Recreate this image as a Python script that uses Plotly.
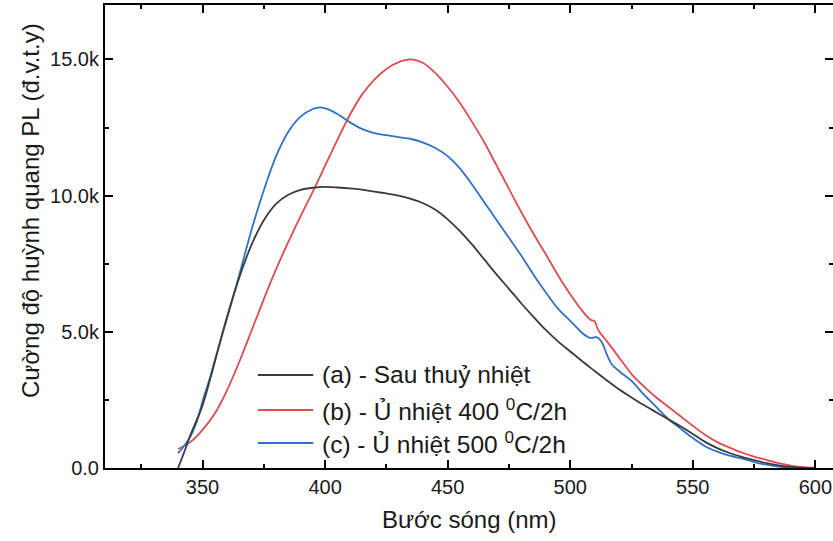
import plotly.graph_objects as go

# ---------------- data ----------------
wl_a = [340, 343, 345, 350, 355, 360, 365, 370, 375, 380, 385, 390, 395, 400, 405, 410, 415, 420,
        425, 430, 435, 440, 445, 450, 455, 460, 465, 470, 475, 480, 485, 490, 495, 500, 505, 510,
        515, 520, 525, 530, 535, 540, 545, 550, 555, 560, 565, 570, 575, 580, 585, 590, 595, 600]
pl_a = [0, 700, 1200, 2300, 3900, 5550, 7000, 8200, 9100, 9700, 10030, 10210, 10290, 10320, 10300,
        10270, 10220, 10150, 10080, 10000, 9880, 9720, 9480, 9130, 8700, 8200, 7650, 7100, 6580,
        6050, 5550, 5070, 4650, 4280, 3910, 3560, 3210, 2880, 2590, 2310, 2050, 1790, 1530, 1250,
        960, 730, 550, 410, 290, 180, 100, 40, 10, 0]

wl_b = [340, 345, 350, 355, 360, 365, 370, 375, 380, 385, 390, 395, 400, 405, 410, 415, 420, 425,
        430, 435, 440, 445, 450, 455, 460, 465, 470, 475, 480, 485, 490, 495, 500, 505, 508, 509,
        510, 511, 512, 515, 520, 525, 530, 535, 540, 545, 550, 555, 560, 565, 570, 575, 580, 585,
        590, 595, 600]
pl_b = [700, 950, 1400, 2000, 2850, 3900, 5050, 6200, 7300, 8300, 9250, 10150, 11100, 12050, 12950,
        13700, 14250, 14650, 14900, 15000, 14870, 14500, 14000, 13400, 12700, 11950, 11100, 10250,
        9400, 8600, 7850, 7080, 6380, 5760, 5460, 5420, 5380, 5150, 4980, 4650, 4050, 3450, 3000,
        2600, 2250, 1900, 1550, 1220, 950, 750, 570, 420, 300, 180, 90, 30, 0]

wl_c = [340, 342, 345, 348, 350, 353, 355, 358, 360, 365, 370, 375, 380, 385, 390, 395, 398, 401,
        405, 410, 415, 420, 425, 430, 435, 440, 445, 450, 455, 460, 465, 470, 475, 480, 485, 490,
        495, 500, 505, 508, 510, 511, 513, 515, 517, 520, 525, 530, 535, 540, 545, 550, 555, 560,
        565, 570, 575, 580, 585, 590]
pl_c = [550, 750, 1150, 1800, 2450, 3300, 3950, 4900, 5500, 7100, 8750, 10200, 11450, 12350, 12900,
        13180, 13240, 13180, 13000, 12700, 12450, 12300, 12220, 12150, 12080, 11950, 11750, 11450,
        11000, 10400, 9750, 9100, 8450, 7800, 7100, 6450, 5850, 5400, 4950, 4780, 4800, 4800, 4600,
        4150, 3800, 3550, 3200, 2700, 2250, 1800, 1450, 1100, 800, 600, 450, 350, 220, 120, 50, 0]

series_names = ["(a) - Sau thuỷ nhiệt",
                "(b) - Ủ nhiệt 400 <sup>0</sup>C/2h",
                "(c) - Ủ nhiệt 500 <sup>0</sup>C/2h"]
series_colors = ["#3b3b3b", "#de4b50", "#2f72c4"]

x_ticks = [350, 400, 450, 500, 550, 600]
y_ticks = [0, 5000, 10000, 15000]
y_ticktext = ["0.0", "5.0k", "10.0k", "15.0k"]

x_title = "Bước sóng (nm)"
y_title = "Cường độ huỳnh quang PL (đ.v.t.y)"

FONT = "Liberation Sans, Arial, sans-serif"
TXT = "#1a1a1a"

fig = go.Figure()
for wl, pl, name, col in zip([wl_a, wl_b, wl_c], [pl_a, pl_b, pl_c], series_names, series_colors):
    fig.add_trace(go.Scatter(x=wl, y=pl, mode="lines", name=name, showlegend=False,
                             line=dict(color=col, width=1.8, shape="spline", smoothing=0.8)))

# manual legend (line sample + text)
leg_rows = [0.2009, 0.1253, 0.054]
for name, col, yy in zip(series_names, series_colors, leg_rows):
    fig.add_shape(type="line", xref="paper", yref="paper", x0=0.210, x1=0.286, y0=yy, y1=yy,
                  line=dict(color=col, width=2))
    fig.add_annotation(xref="paper", yref="paper", x=0.295, y=yy, text=name, showarrow=False,
                       xanchor="left", yanchor="middle", font=dict(family=FONT, size=24.5, color=TXT))

# axis titles
fig.add_annotation(xref="paper", yref="paper", x=0.5, y=-0.112, text=x_title, showarrow=False,
                   xanchor="center", yanchor="middle", font=dict(family=FONT, size=24, color=TXT))
fig.add_annotation(xref="paper", yref="paper", x=-0.103, y=0.555, text=y_title, showarrow=False,
                   textangle=-90, xanchor="center", yanchor="middle",
                   font=dict(family=FONT, size=24, color=TXT))

minor_x = dict(dtick=25, tick0=0, ticks="inside", ticklen=4, tickwidth=2, tickcolor="black", showgrid=False)
minor_y = dict(dtick=2500, tick0=0, ticks="inside", ticklen=4, tickwidth=2, tickcolor="black", showgrid=False)

fig.update_layout(
    width=833, height=541, margin=dict(l=105, r=0, t=5, b=73),
    plot_bgcolor="white", paper_bgcolor="white", showlegend=False,
    xaxis=dict(range=[310.2, 607.2], tickvals=x_ticks, ticks="inside", ticklen=8, tickwidth=2,
               tickcolor="black", showline=True, linewidth=2, linecolor="black", mirror="ticks",
               showgrid=False, zeroline=False, tickfont=dict(family=FONT, size=20, color=TXT),
               minor=minor_x),
    yaxis=dict(range=[0, 17000], tickvals=y_ticks, ticktext=y_ticktext, ticks="inside", ticklen=8,
               tickwidth=2, tickcolor="black", showline=True, linewidth=2, linecolor="black",
               mirror=False, showgrid=False, zeroline=False,
               tickfont=dict(family=FONT, size=20, color=TXT), minor=minor_y),
    yaxis2=dict(overlaying="y", matches="y", side="right", tickvals=y_ticks, ticks="inside", ticklen=8,
                tickwidth=2, tickcolor="black", showline=False, showticklabels=False, showgrid=False,
                zeroline=False, minor=minor_y),
)
# the first series is also bound to the mirrored right axis (same scale) so its ticks are drawn
fig.data[0].update(yaxis="y2")

fig.write_html("out.html")
